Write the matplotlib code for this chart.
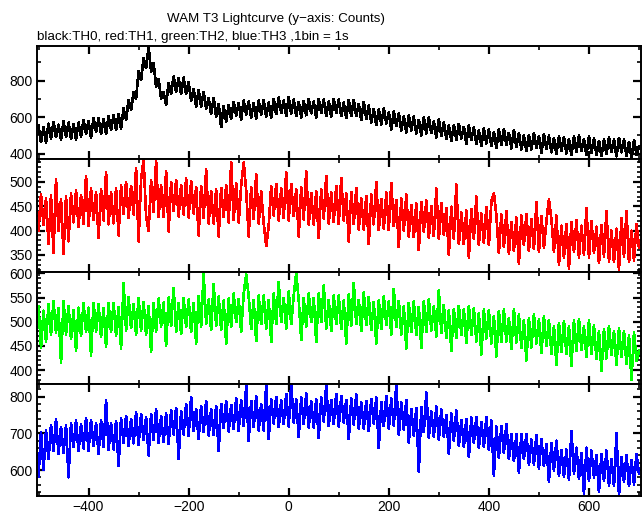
import numpy as np
import matplotlib.pyplot as plt
from matplotlib.ticker import MultipleLocator

# WAM T3 light curves, counts per bin, time from -500 s to 700 s (5 s steps)
t_start = -500
t_step = 5

th0 = [552, 463, 543, 460, 564, 481, 573, 490, 558, 475,
       579, 490, 570, 481, 561, 478, 570, 493, 585, 508,
       576, 489, 594, 519, 594, 507, 588, 507, 606, 531,
       612, 529, 615, 538, 648, 584, 694, 640, 736, 702,
       854, 804, 922, 870, 985, 850, 896, 768, 808, 700,
       736, 666, 788, 730, 822, 737, 815, 726, 817, 726,
       792, 690, 755, 658, 748, 656, 739, 648, 706, 617,
       704, 604, 672, 545, 660, 576, 666, 590, 683, 608,
       676, 587, 690, 613, 686, 597, 676, 593, 690, 613,
       692, 602, 681, 597, 700, 616, 707, 623, 690, 606,
       709, 619, 696, 606, 683, 599, 688, 610, 699, 621,
       686, 597, 700, 623, 696, 607, 686, 603, 700, 623,
       697, 605, 680, 594, 693, 607, 694, 607, 671, 584,
       684, 590, 664, 570, 644, 556, 642, 560, 646, 564,
       626, 533, 632, 551, 620, 527, 602, 515, 608, 527,
       602, 509, 585, 498, 598, 511, 599, 512, 576, 489,
       589, 496, 572, 479, 555, 468, 556, 475, 563, 482,
       546, 454, 554, 474, 544, 452, 528, 442, 536, 456,
       532, 440, 517, 431, 532, 446, 535, 449, 514, 428,
       529, 437, 514, 422, 499, 413, 502, 422, 511, 431,
       496, 405, 506, 427, 498, 407, 484, 399, 494, 415,
       492, 401, 478, 393, 494, 409, 498, 413, 478, 393,
       494, 404, 482, 392, 470, 386, 476, 398, 488, 410,
       476, 385, 486, 407, 478, 387, 464, 379, 474, 395,
       440]

th1 = [400, 475, 411, 466, 372, 472, 355, 505, 399, 464,
       352, 470, 378, 476, 417, 482, 408, 473, 414, 512,
       410, 486, 422, 478, 385, 485, 421, 520, 413, 479,
       415, 486, 390, 493, 434, 500, 426, 492, 433, 528,
       378, 506, 545, 430, 400, 503, 438, 543, 428, 493,
       428, 522, 398, 500, 440, 504, 429, 493, 433, 507,
       427, 501, 435, 489, 390, 492, 426, 525, 415, 480,
       415, 484, 388, 488, 428, 493, 417, 540, 422, 497,
       417, 492, 540, 483, 388, 489, 424, 515, 415, 480,
       415, 368, 410, 491, 431, 496, 421, 486, 426, 520,
       421, 496, 430, 485, 388, 489, 423, 522, 412, 477,
       412, 481, 385, 485, 425, 512, 414, 478, 418, 492,
       413, 508, 421, 476, 378, 479, 413, 488, 402, 466,
       402, 471, 372, 474, 413, 500, 401, 465, 404, 478,
       401, 498, 409, 463, 366, 466, 400, 474, 388, 452,
       387, 456, 360, 459, 398, 462, 386, 450, 389, 486,
       383, 457, 391, 446, 350, 449, 383, 495, 372, 437,
       372, 441, 345, 444, 383, 470, 371, 435, 374, 448,
       370, 460, 477, 431, 354, 433, 366, 440, 353, 417,
       358, 427, 332, 431, 370, 434, 358, 423, 362, 458,
       356, 430, 365, 419, 464, 423, 357, 431, 330, 410,
       345, 414, 322, 417, 356, 421, 345, 410, 350, 446,
       345, 419, 354, 408, 333, 412, 347, 440, 336, 400,
       335, 404, 320, 425, 346, 440, 335, 400, 339, 414,
       365]

th2 = [532, 446, 523, 459, 536, 474, 542, 478, 528, 415,
       542, 474, 533, 465, 524, 440, 529, 470, 538, 479,
       529, 430, 539, 480, 536, 468, 528, 448, 538, 479,
       539, 471, 531, 445, 580, 482, 551, 487, 537, 474,
       549, 482, 541, 474, 533, 437, 538, 480, 548, 490,
       540, 450, 550, 491, 570, 479, 539, 475, 549, 490,
       546, 479, 539, 455, 553, 490, 600, 495, 546, 483,
       578, 492, 552, 484, 544, 455, 548, 490, 558, 499,
       547, 480, 557, 598, 553, 485, 545, 460, 554, 495,
       554, 486, 545, 458, 558, 495, 582, 499, 549, 486,
       563, 495, 554, 600, 545, 462, 549, 490, 558, 499,
       549, 458, 558, 499, 575, 486, 545, 481, 554, 495,
       554, 485, 544, 455, 556, 492, 580, 495, 545, 481,
       561, 493, 551, 483, 541, 455, 544, 485, 552, 493,
       542, 473, 568, 489, 543, 474, 532, 445, 539, 479,
       542, 473, 531, 446, 542, 479, 546, 482, 532, 469,
       565, 477, 535, 466, 524, 440, 526, 466, 533, 473,
       525, 456, 533, 473, 527, 459, 517, 432, 525, 465,
       524, 455, 512, 428, 522, 458, 525, 459, 508, 443,
       526, 457, 515, 446, 504, 420, 507, 447, 515, 455,
       505, 435, 511, 450, 504, 434, 491, 410, 497, 437,
       502, 433, 491, 408, 503, 439, 506, 441, 490, 427,
       503, 434, 492, 423, 481, 398, 484, 424, 491, 431,
       480, 411, 487, 427, 481, 413, 471, 380, 478, 419,
       440]

th3 = [582, 704, 600, 708, 630, 722, 653, 738, 645, 718,
       646, 723, 580, 729, 663, 735, 652, 724, 659, 742,
       653, 737, 666, 727, 645, 735, 664, 790, 654, 727,
       656, 734, 612, 741, 675, 748, 666, 739, 673, 757,
       669, 753, 682, 745, 640, 753, 682, 766, 674, 747,
       676, 754, 672, 763, 697, 770, 630, 761, 697, 781,
       693, 800, 706, 767, 685, 775, 704, 788, 694, 767,
       696, 774, 652, 781, 715, 787, 705, 778, 712, 796,
       707, 791, 720, 830, 680, 789, 717, 801, 708, 780,
       708, 832, 685, 793, 727, 800, 717, 790, 725, 808,
       719, 835, 730, 792, 690, 798, 726, 809, 716, 788,
       716, 793, 688, 799, 732, 832, 720, 792, 726, 808,
       719, 802, 730, 791, 685, 796, 724, 807, 713, 785,
       713, 789, 706, 794, 727, 798, 660, 786, 720, 802,
       713, 795, 721, 835, 696, 784, 711, 792, 675, 767,
       694, 769, 595, 772, 704, 812, 689, 760, 692, 774,
       683, 765, 691, 751, 645, 754, 681, 762, 667, 737,
       664, 740, 635, 743, 674, 745, 661, 731, 664, 745,
       655, 735, 585, 719, 634, 720, 646, 726, 630, 699,
       624, 698, 592, 699, 630, 699, 614, 683, 615, 695,
       604, 685, 611, 670, 568, 673, 599, 680, 585, 655,
       581, 656, 572, 706, 591, 661, 577, 647, 535, 661,
       571, 653, 580, 640, 540, 644, 571, 653, 558, 629,
       556, 700, 532, 636, 568, 640, 556, 628, 561, 644,
       590]

series = [th0, th1, th2, th3]
colors = ['black', '#ff0000', '#00ff00', '#0000ff']
ylims = [(370, 990), (315, 547), (371, 603), (529, 835)]
ymajor = [200, 50, 50, 100]
yminor = [100, 10, 10, 20]

plt.rcParams['font.family'] = ['Liberation Sans', 'DejaVu Sans']
plt.rcParams['font.size'] = 10

fig = plt.figure(figsize=(6.43, 5.15), dpi=100)
W, H = 643, 515
left, right = 37, 641
edges = [46, 159, 272, 384, 496]

for i, ys in enumerate(series):
    top, bot = edges[i], edges[i + 1]
    ax = fig.add_axes([left / W, 1 - bot / H, (right - left) / W, (bot - top) / H])
    t = t_start + t_step * np.arange(len(ys))
    ax.plot(t, ys, color=colors[i], lw=1.2, antialiased=False)
    ax.set_xlim(-503, 704)
    ax.set_ylim(*ylims[i])
    ax.xaxis.set_major_locator(MultipleLocator(200))
    ax.xaxis.set_minor_locator(MultipleLocator(100))
    ax.yaxis.set_major_locator(MultipleLocator(ymajor[i]))
    ax.yaxis.set_minor_locator(MultipleLocator(yminor[i]))
    ax.tick_params(which='both', direction='in', top=True, right=True, color='black')
    ax.tick_params(which='major', length=6, width=1.6, labelsize=10, pad=3)
    ax.tick_params(which='minor', length=3, width=1.2)
    if i < 3:
        ax.tick_params(labelbottom=False)
    for s in ax.spines.values():
        s.set_linewidth(1.4)

fig.text(276 / W, 1 - 19 / H, 'WAM T3 Lightcurve (y\u2212axis: Counts)',
         ha='center', va='center', fontsize=9.6)
fig.text(left / W, 1 - 37 / H, 'black:TH0, red:TH1, green:TH2, blue:TH3 ,1bin = 1s',
         ha='left', va='center', fontsize=9.6)

fig.savefig('out.png', dpi=100)
